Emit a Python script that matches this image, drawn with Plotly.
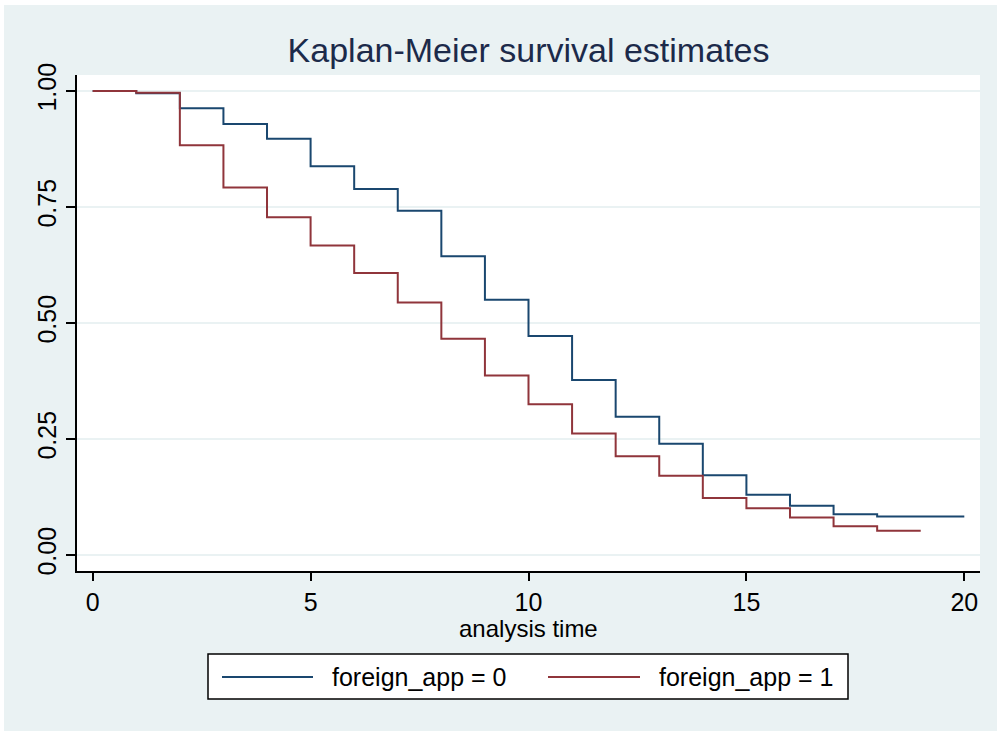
import plotly.graph_objects as go

# ---- data ----
time_0 = [0, 1, 2, 3, 4, 5, 6, 7, 8, 9, 10, 11, 12, 13, 14, 15, 16, 17, 18, 20]
surv_0 = [1.0, 0.995, 0.963, 0.929, 0.897, 0.838, 0.789, 0.742, 0.644, 0.550,
          0.472, 0.377, 0.298, 0.240, 0.172, 0.130, 0.106, 0.088, 0.083, 0.083]
time_1 = [0, 1, 2, 3, 4, 5, 6, 7, 8, 9, 10, 11, 12, 13, 14, 15, 16, 17, 18, 19]
surv_1 = [1.0, 0.996, 0.883, 0.792, 0.728, 0.667, 0.608, 0.544, 0.466, 0.387,
          0.325, 0.262, 0.213, 0.171, 0.123, 0.101, 0.081, 0.062, 0.052, 0.052]
names = ["foreign_app = 0", "foreign_app = 1"]
x_ticks = [0, 5, 10, 15, 20]
y_ticks = [0, 0.25, 0.5, 0.75, 1.0]
y_ticklabels = ["0.00", "0.25", "0.50", "0.75", "1.00"]

BLUE = "#1a476f"
RED = "#90353b"
BG = "#eaf2f3"
FONT = "Liberation Sans, Arial, sans-serif"

W, H = 997, 731
L, R, T, B = 77, 17, 75, 160
PW, PH = W - L - R, H - T - B


def px(xp):
    return (xp - L) / PW


def py(yp):
    return (H - B - yp) / PH


fig = go.Figure()
for t, s, n, c in [(time_0, surv_0, names[0], BLUE), (time_1, surv_1, names[1], RED)]:
    fig.add_trace(go.Scatter(x=t, y=s, name=n, mode="lines", line_shape="hv",
                             line=dict(color=c, width=2), showlegend=False))

shapes = [
    # white outer strips
    dict(type="rect", xref="paper", yref="paper", x0=px(0), x1=px(4), y0=py(H), y1=py(0),
         fillcolor="white", line_width=0, layer="below"),
    dict(type="rect", xref="paper", yref="paper", x0=px(0), x1=px(W), y0=py(5), y1=py(0),
         fillcolor="white", line_width=0, layer="below"),
    # legend box
    dict(type="rect", xref="paper", yref="paper", x0=px(208), x1=px(848), y0=py(699), y1=py(654),
         fillcolor="white", line=dict(color="black", width=1.5)),
    dict(type="line", xref="paper", yref="paper", x0=px(222), x1=px(313), y0=py(677), y1=py(677),
         line=dict(color=BLUE, width=2)),
    dict(type="line", xref="paper", yref="paper", x0=px(548), x1=px(640), y0=py(677), y1=py(677),
         line=dict(color=RED, width=2)),
]
annotations = [
    dict(text=names[0], xref="paper", yref="paper", x=px(330), y=py(677), xanchor="left",
         yanchor="middle", showarrow=False, font=dict(family=FONT, size=25, color="black")),
    dict(text=names[1], xref="paper", yref="paper", x=px(657), y=py(677), xanchor="left",
         yanchor="middle", showarrow=False, font=dict(family=FONT, size=25, color="black")),
    dict(text="analysis time", xref="paper", yref="paper", x=0.5, y=py(628), xanchor="center",
         yanchor="middle", showarrow=False, font=dict(family=FONT, size=24, color="black")),
]

fig.update_layout(
    width=W, height=H,
    margin=dict(l=L, r=R, t=T, b=B),
    paper_bgcolor=BG, plot_bgcolor="white",
    font=dict(family=FONT, size=25, color="black"),
    title=dict(text="Kaplan-Meier survival estimates", x=0.5, xref="paper",
               y=1 - 50 / H, yref="container", yanchor="middle", xanchor="center",
               font=dict(family=FONT, size=34, color="#1c2a4a")),
    shapes=shapes, annotations=annotations,
    xaxis=dict(range=[-0.36, 20.36], tickvals=x_ticks, showgrid=False, zeroline=False,
               showline=True, linecolor="black", linewidth=1.5, ticks="outside",
               ticklen=8, tickwidth=1.5, tickcolor="black",
               tickfont=dict(size=25)),
    yaxis=dict(range=[-0.0345, 1.0345], tickvals=y_ticks, ticktext=y_ticklabels,
               showgrid=True, gridcolor=BG, gridwidth=1.5, zeroline=False,
               showline=True, linecolor="black", linewidth=1.5, ticks="outside",
               ticklen=9, tickwidth=1.5, tickcolor="black", tickangle=-90,
               tickfont=dict(size=25)),
)

fig.write_html("out.html", config={"displayModeBar": False},
               post_script="document.body.style.margin='0';"
                           "document.body.style.background='%s';"
                           "document.documentElement.style.background='%s';" % (BG, BG))
